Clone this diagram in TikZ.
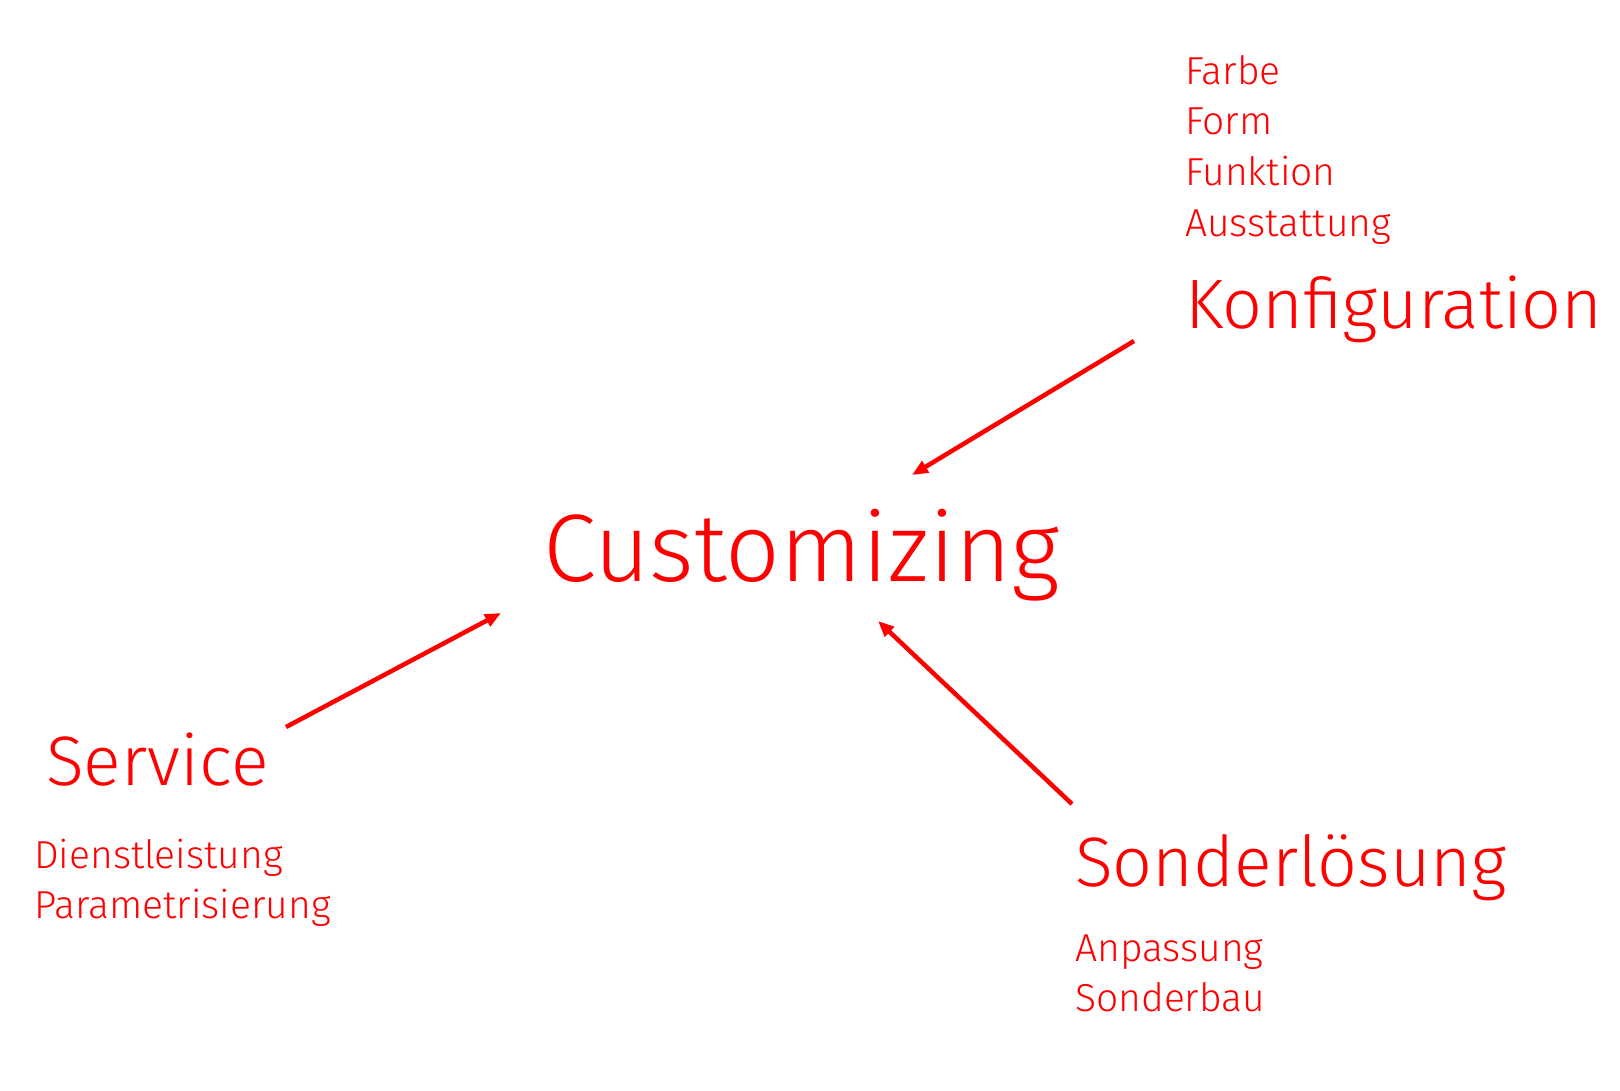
\documentclass[tikz,border=0pt]{standalone}
\usepackage{fontspec}
\setmainfont{Fira Sans Light}
\usetikzlibrary{arrows.meta}
\definecolor{pred}{RGB}{255,0,0}
\begin{document}
\begin{tikzpicture}[x=1pt,y=-1pt,
  lbl/.style={anchor=base west,inner sep=0pt,text=pred},
  big/.style={lbl,font=\fontsize{96}{110}\selectfont},
  mid/.style={lbl,font=\fontsize{70}{80}\selectfont},
  small/.style={lbl,font=\fontsize{39}{45}\selectfont},
  conn/.style={draw=pred,line width=4.5pt,-{Triangle[length=16pt,width=13pt]}}]
\useasboundingbox (0,0) rectangle (1620,1091);
\node[big] (cust) at (543,581) {Customizing};
\node[mid] (konf) at (1185,329) {Konfiguration};
\node[small] (farbe) at (1185,85) {Farbe};
\node[small] (form) at (1185,135) {Form};
\node[small] (funk) at (1185,186) {Funktion};
\node[small] (auss) at (1185,237) {Ausstattung};
\node[mid] (serv) at (46,785) {Service};
\node[small] (dienst) at (34,868) {Dienstleistung};
\node[small] (param) at (34,918) {Parametrisierung};
\node[mid] (sond) at (1075,886) {Sonderlösung};
\node[small] (anp) at (1075,961) {Anpassung};
\node[small] (sbau) at (1075,1011) {Sonderbau};
\coordinate (k1) at (1134,341);
\coordinate (k2) at (912,475);
\coordinate (s1) at (286,727);
\coordinate (s2) at (501,613);
\coordinate (l1) at (1072,804);
\coordinate (l2) at (878,621);
\draw[conn] (k1) -- (k2);
\draw[conn] (s1) -- (s2);
\draw[conn] (l1) -- (l2);
\end{tikzpicture}
\end{document}
